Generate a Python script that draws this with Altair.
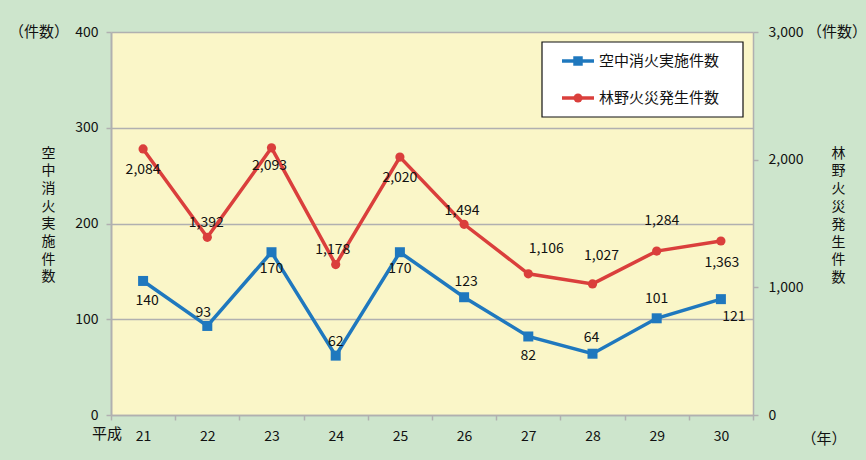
import altair as alt
import pandas as pd

years = ["21", "22", "23", "24", "25", "26", "27", "28", "29", "30"]
aerial = [140, 93, 170, 62, 170, 123, 82, 64, 101, 121]
fires = [2084, 1392, 2093, 1178, 2020, 1494, 1106, 1027, 1284, 1363]
left_ticks = [0, 100, 200, 300, 400]
right_ticks = [0, 1000, 2000, 3000]

# label placement offsets (pixels)
aerial_dx = [4, -4, 0, 0, 0, 2, 0, -1, 0, 13]
aerial_dy = [20, -13, 17, -14, 17, -15, 20, -16, -19, 18]
fires_dx = [0, -1, -2, -3, 0, -2, 18, 9, 5, 1]
fires_dy = [21, -14, 18, -15, 21, -13, -25, -28, -30, 22]

FONT = "Noto Sans CJK JP"
BLUE = "#1f78be"
RED = "#da3f3c"
GRID = "#b0b0b0"

df = pd.DataFrame({
    "year": years,
    "aerial": aerial,
    "fires": fires,
    "adx": aerial_dx,
    "ady": aerial_dy,
    "fdx": fires_dx,
    "fdy": fires_dy,
})

xscale = alt.Scale(type="band", paddingInner=0, paddingOuter=0)
xaxis = alt.Axis(title=None, labelAngle=0, tickBand="extent", domainColor=GRID,
                 domainWidth=1.5, tickColor=GRID, tickWidth=1.5, tickSize=5,
                 labelPadding=9, labelFontSize=14, labelFont=FONT, labelColor="#111",
                 labelBaseline="top", grid=False)
xenc = alt.X("year:O", sort=years, bandPosition=0.5, scale=xscale, axis=xaxis)

yleft_scale = alt.Scale(domain=[0, 400], nice=False)
yright_scale = alt.Scale(domain=[0, 3000], nice=False)

yleft_axis = alt.Axis(orient="left", values=left_ticks, grid=True,
                      gridColor=GRID, gridWidth=1.5, domainColor=GRID, domainWidth=2,
                      tickColor=GRID, tickWidth=1.5, tickSize=5, labelPadding=8,
                      labelFontSize=14, labelFont=FONT, labelColor="#111",
                      title=["空", "中", "消", "火", "実", "施", "件", "数"],
                      titleAngle=0, titleX=-63, titleY=121, titleAlign="center",
                      titleBaseline="middle", titleLineHeight=17.7, titleFontSize=14,
                      titleFont=FONT, titleFontWeight="normal", titleColor="#111")
yright_axis = alt.Axis(orient="right", values=right_ticks, format=",.0f", grid=False,
                       domainColor=GRID, domainWidth=1.5, tickColor=GRID, tickWidth=1.5,
                       tickSize=5, labelPadding=10, labelFontSize=14, labelFont=FONT,
                       labelColor="#111",
                       title=["林", "野", "火", "災", "発", "生", "件", "数"],
                       titleAngle=0, titleX=85, titleY=121, titleAlign="center",
                       titleBaseline="middle", titleLineHeight=17.8, titleFontSize=14,
                       titleFont=FONT, titleFontWeight="normal", titleColor="#111")

yl = alt.Y("aerial:Q", scale=yleft_scale, axis=yleft_axis)
yr = alt.Y("fires:Q", scale=yright_scale, axis=yright_axis)

base = alt.Chart(df)

blue_line = base.mark_line(color=BLUE, strokeWidth=3.5).encode(x=xenc, y=yl)
blue_pts = base.mark_point(shape="square", filled=True, color=BLUE, size=100, opacity=1).encode(
    x=xenc, y=yl)
blue_txt = base.mark_text(fontSize=14, font=FONT, color="#111", baseline="middle",
                          dx=alt.expr("datum.adx"), dy=alt.expr("datum.ady")).encode(
    x=xenc, y=yl, text=alt.Text("aerial:Q"))
blue = alt.layer(blue_line, blue_pts, blue_txt)

red_line = base.mark_line(color=RED, strokeWidth=3.5).encode(x=xenc, y=yr)
red_pts = base.mark_point(shape="circle", filled=True, color=RED, size=85, opacity=1).encode(
    x=xenc, y=yr)
red_txt = base.mark_text(fontSize=14, font=FONT, color="#111", baseline="middle",
                         dx=alt.expr("datum.fdx"), dy=alt.expr("datum.fdy")).encode(
    x=xenc, y=yr, text=alt.Text("fires:Q", format=","))
red = alt.layer(red_line, red_pts, red_txt)

one = alt.Chart(pd.DataFrame({"k": [0]}))

legend_box = one.mark_rect(fill="white", stroke="#111", strokeWidth=1.2).encode(
    x=alt.value(431), x2=alt.value(632), y=alt.value(10), y2=alt.value(85))
leg_line1 = one.mark_rule(color=BLUE, strokeWidth=3.5).encode(
    x=alt.value(451), x2=alt.value(483), y=alt.value(29))
leg_line2 = one.mark_rule(color=RED, strokeWidth=3.5).encode(
    x=alt.value(451), x2=alt.value(483), y=alt.value(66))
leg_pt1 = one.mark_point(shape="square", filled=True, color=BLUE, size=90, opacity=1).encode(
    x=alt.value(467), y=alt.value(29))
leg_pt2 = one.mark_point(shape="circle", filled=True, color=RED, size=80, opacity=1).encode(
    x=alt.value(467), y=alt.value(66))
leg_t1 = one.mark_text(align="left", baseline="middle", fontSize=15, font=FONT, color="#111").encode(
    x=alt.value(488), y=alt.value(29), text=alt.value("空中消火実施件数"))
leg_t2 = one.mark_text(align="left", baseline="middle", fontSize=15, font=FONT, color="#111").encode(
    x=alt.value(488), y=alt.value(66), text=alt.value("林野火災発生件数"))


def note(txt, x, y, align="center"):
    return one.mark_text(align=align, baseline="middle", fontSize=15, font=FONT, color="#111").encode(
        x=alt.value(x), y=alt.value(y), text=alt.value(txt))


notes = [
    note("（件数）", -72, 0),
    note("（件数）", 696, 0, align="left"),
    note("平成", -4, 402),
    note("（年）", 713, 407),
]

chart = alt.layer(
    blue, red, legend_box, leg_line1, leg_line2, leg_pt1, leg_pt2, leg_t1, leg_t2, *notes
).resolve_scale(y="independent").properties(
    width=642, height=383,
    padding={"left": 111, "top": 32, "right": 113, "bottom": 45},
    autosize=alt.AutoSizeParams(type="none"),
    background="#cde5cc",
).configure_view(fill="#faf6c8", stroke="transparent")

chart.save("out.html", embed_options={"renderer": "svg", "actions": False})
